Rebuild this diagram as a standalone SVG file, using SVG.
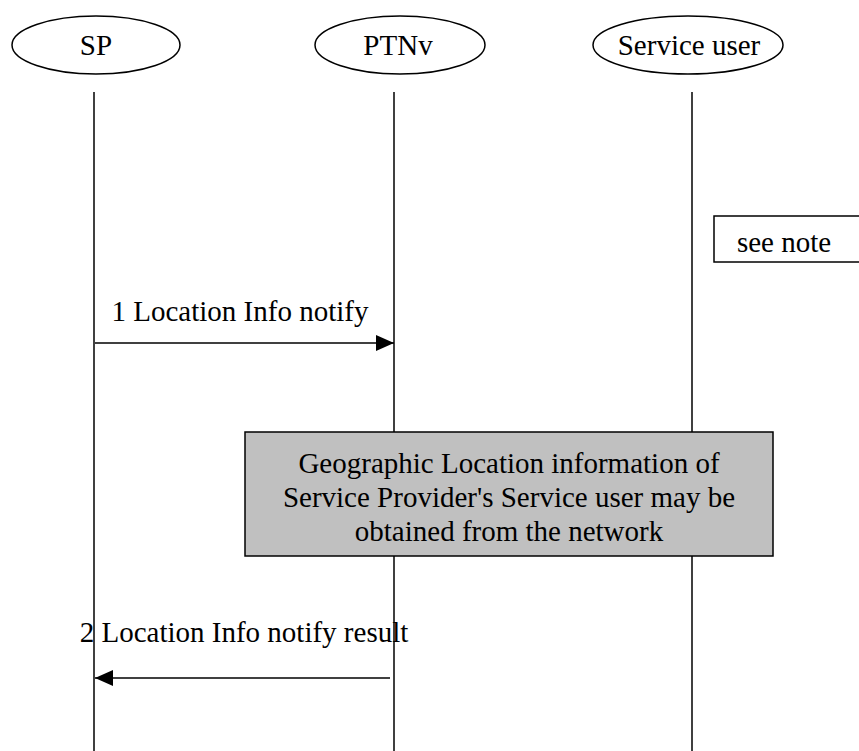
<svg xmlns="http://www.w3.org/2000/svg" width="859" height="751" viewBox="0 0 859 751">
<style>
text{font-family:"Liberation Serif","Times New Roman",serif;font-size:29px;fill:#000}
.ent{fill:#fff;stroke:#000;stroke-width:1.5}
.life{stroke:#000;stroke-width:1.5;fill:none}
.msg{stroke:#000;stroke-width:1.5;fill:none}
</style>
<defs>
<marker id="ah" markerWidth="18" markerHeight="16" refX="18" refY="8" orient="auto" markerUnits="userSpaceOnUse">
<path d="M0,0 L18,8 L0,16 Z" fill="#000"/>
</marker>
</defs>
<g id="lifelines">
<line class="life" x1="94" y1="92" x2="94" y2="751"/>
<line class="life" x1="394" y1="92" x2="394" y2="751"/>
<line class="life" x1="692" y1="92" x2="692" y2="751"/>
</g>
<g id="node-sp">
<ellipse class="ent" cx="96" cy="45" rx="84" ry="29"/>
<text x="96" y="55" text-anchor="middle">SP</text>
</g>
<g id="node-ptnv">
<ellipse class="ent" cx="400" cy="45" rx="85" ry="29"/>
<text x="398" y="55" text-anchor="middle">PTNv</text>
</g>
<g id="node-user">
<ellipse class="ent" cx="688" cy="45" rx="95" ry="29"/>
<text x="689" y="55" text-anchor="middle">Service user</text>
</g>
<g id="note">
<rect class="ent" x="714" y="216" width="150" height="46"/>
<text x="784" y="252" text-anchor="middle">see note</text>
</g>
<g id="connectors">
<line class="msg" x1="95" y1="343" x2="394" y2="343" marker-end="url(#ah)"/>
<text x="240" y="321" text-anchor="middle">1 Location Info notify</text>
<line class="msg" x1="390" y1="678" x2="95" y2="678" marker-end="url(#ah)"/>
<text x="244" y="642" text-anchor="middle">2 Location Info notify result</text>
</g>
<g id="info-box">
<rect x="245" y="432" width="528" height="124" fill="#c0c0c0" stroke="#000" stroke-width="1.5"/>
<text x="509" y="473" text-anchor="middle">Geographic Location information of</text>
<text x="509" y="507" text-anchor="middle">Service Provider's Service user may be</text>
<text x="509" y="541" text-anchor="middle">obtained from the network</text>
</g>
</svg>
